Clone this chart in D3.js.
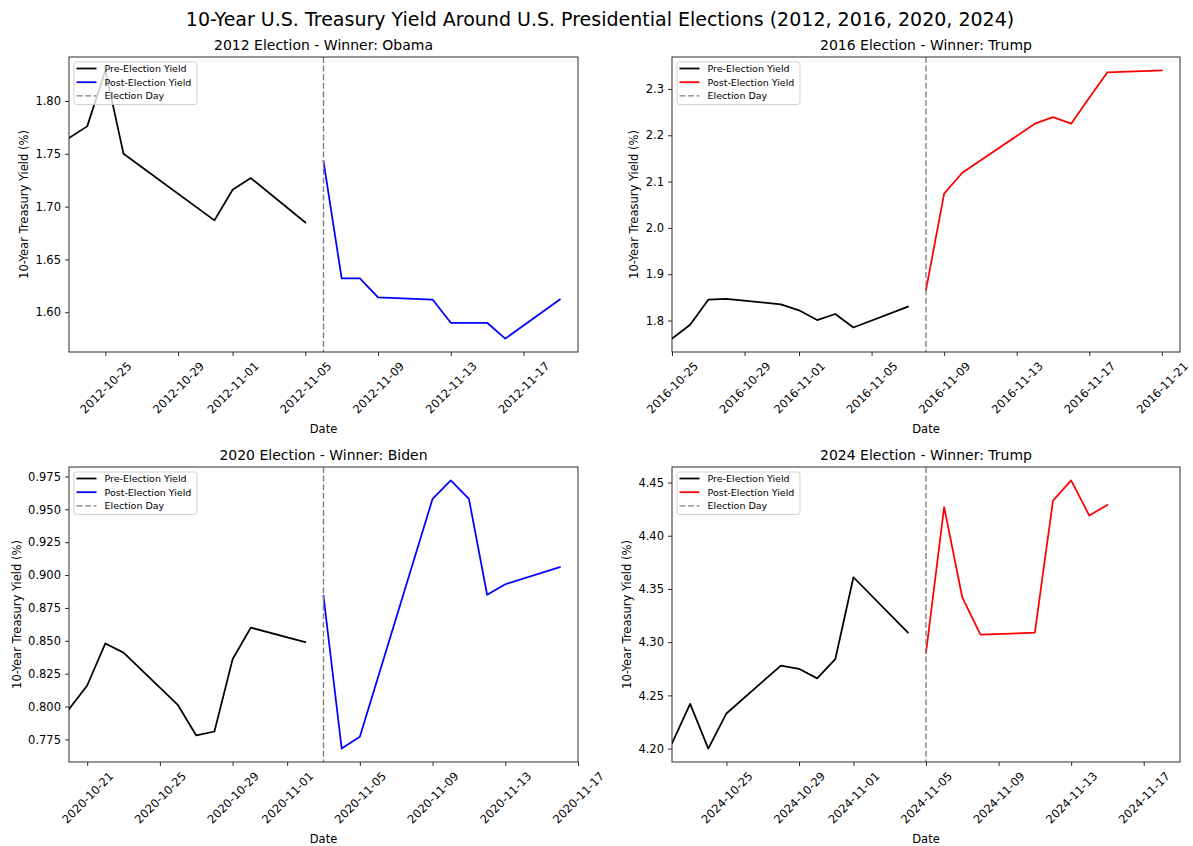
<!DOCTYPE html>
<html><head><meta charset="utf-8">
<script src="https://cdn.jsdelivr.net/npm/d3@7"></script>
<style>
body{margin:0;background:#fff}
svg{display:block}
text{font-family:"DejaVu Sans",sans-serif;fill:#000}
</style>
</head><body>
<svg id="chart" width="1193" height="846"></svg>
<script>
// ---------------- DATA ----------------
const suptitle = "10-Year U.S. Treasury Yield Around U.S. Presidential Elections (2012, 2016, 2020, 2024)";
const electionYears = ["2012", "2016", "2020", "2024"];
const winners = ["Obama", "Trump", "Biden", "Trump"];
const electionDays = ["2012-11-06", "2016-11-08", "2020-11-03", "2024-11-05"];
const postColors = ["blue", "red", "blue", "red"];
const legendLabels = ["Pre-Election Yield", "Post-Election Yield", "Election Day"];

const preDates2012 = ["2012-10-23","2012-10-24","2012-10-25","2012-10-26","2012-10-31","2012-11-01","2012-11-02","2012-11-05"];
const preYield2012 = [1.765, 1.776, 1.829, 1.750, 1.687, 1.716, 1.727, 1.685];
const postDates2012 = ["2012-11-06","2012-11-07","2012-11-08","2012-11-09","2012-11-12","2012-11-13","2012-11-14","2012-11-15","2012-11-16","2012-11-19"];
const postYield2012 = [1.743, 1.632, 1.632, 1.614, 1.612, 1.590, 1.590, 1.590, 1.575, 1.612];

const preDates2016 = ["2016-10-25","2016-10-26","2016-10-27","2016-10-28","2016-10-31","2016-11-01","2016-11-02","2016-11-03","2016-11-04","2016-11-07"];
const preYield2016 = [1.761, 1.791, 1.845, 1.847, 1.835, 1.822, 1.801, 1.814, 1.785, 1.830];
const postDates2016 = ["2016-11-08","2016-11-09","2016-11-10","2016-11-14","2016-11-15","2016-11-16","2016-11-17","2016-11-18","2016-11-21"];
const postYield2016 = [1.866, 2.074, 2.119, 2.225, 2.239, 2.225, 2.281, 2.336, 2.340];

const preDates2020 = ["2020-10-20","2020-10-21","2020-10-22","2020-10-23","2020-10-26","2020-10-27","2020-10-28","2020-10-29","2020-10-30","2020-11-02"];
const preYield2020 = [0.798, 0.816, 0.848, 0.841, 0.801, 0.778, 0.781, 0.836, 0.860, 0.849];
const postDates2020 = ["2020-11-03","2020-11-04","2020-11-05","2020-11-09","2020-11-10","2020-11-11","2020-11-12","2020-11-13","2020-11-16"];
const postYield2020 = [0.884, 0.768, 0.777, 0.958, 0.972, 0.958, 0.885, 0.893, 0.906];

const preDates2024 = ["2024-10-22","2024-10-23","2024-10-24","2024-10-25","2024-10-28","2024-10-29","2024-10-30","2024-10-31","2024-11-01","2024-11-04"];
const preYield2024 = [4.205, 4.242, 4.200, 4.233, 4.278, 4.275, 4.266, 4.284, 4.361, 4.309];
const postDates2024 = ["2024-11-05","2024-11-06","2024-11-07","2024-11-08","2024-11-11","2024-11-12","2024-11-13","2024-11-14","2024-11-15"];
const postYield2024 = [4.290, 4.427, 4.342, 4.307, 4.309, 4.433, 4.452, 4.419, 4.429];

const xTicks2012 = ["2012-10-25","2012-10-29","2012-11-01","2012-11-05","2012-11-09","2012-11-13","2012-11-17"];
const xTicks2016 = ["2016-10-25","2016-10-29","2016-11-01","2016-11-05","2016-11-09","2016-11-13","2016-11-17","2016-11-21"];
const xTicks2020 = ["2020-10-21","2020-10-25","2020-10-29","2020-11-01","2020-11-05","2020-11-09","2020-11-13","2020-11-17"];
const xTicks2024 = ["2024-10-25","2024-10-29","2024-11-01","2024-11-05","2024-11-09","2024-11-13","2024-11-17"];

const yTicks2012 = ["1.60","1.65","1.70","1.75","1.80"];
const yTicks2016 = ["1.8","1.9","2.0","2.1","2.2","2.3"];
const yTicks2020 = ["0.775","0.800","0.825","0.850","0.875","0.900","0.925","0.950","0.975"];
const yTicks2024 = ["4.20","4.25","4.30","4.35","4.40","4.45"];

// ---------------- LAYOUT ----------------
const panels = [
  {preD: preDates2012, preY: preYield2012, postD: postDates2012, postY: postYield2012, xt: xTicks2012, yt: yTicks2012},
  {preD: preDates2016, preY: preYield2016, postD: postDates2016, postY: postYield2016, xt: xTicks2016, yt: yTicks2016},
  {preD: preDates2020, preY: preYield2020, postD: postDates2020, postY: postYield2020, xt: xTicks2020, yt: yTicks2020},
  {preD: preDates2024, preY: preYield2024, postD: postDates2024, postY: postYield2024, xt: xTicks2024, yt: yTicks2024}
];
const boxes = [
  {l: 69, r: 578, t: 57, b: 352},
  {l: 672, r: 1180, t: 57, b: 352},
  {l: 69, r: 578, t: 467, b: 762},
  {l: 672, r: 1180, t: 467, b: 762}
];

const FS_TICK = 11.5, FS_LABEL = 11.5, FS_TITLE = 14, FS_SUP = 19, FS_LEG = 9.5;
const LW = 1.75;
const parse = d3.utcParse("%Y-%m-%d");
const svg = d3.select("#chart");

svg.append("text").attr("x", 600).attr("y", 26).attr("text-anchor", "middle")
  .style("font-size", FS_SUP + "px").text(suptitle);

panels.forEach((p, i) => {
  const bx = boxes[i];
  const eDay = parse(electionDays[i]);
  const x = d3.scaleUtc()
    .domain([d3.utcDay.offset(eDay, -14), d3.utcDay.offset(eDay, 14)])
    .range([bx.l, bx.r]);
  const allY = p.preY.concat(p.postY);
  const lo = d3.min(allY), hi = d3.max(allY), pad = (hi - lo) * 0.05;
  const y = d3.scaleLinear().domain([lo - pad, hi + pad]).range([bx.b, bx.t]);

  const g = svg.append("g");
  const clipId = "clip" + i;
  g.append("clipPath").attr("id", clipId).append("rect")
    .attr("x", bx.l).attr("y", bx.t).attr("width", bx.r - bx.l).attr("height", bx.b - bx.t);

  const line = d3.line().x(d => x(d[0])).y(d => y(d[1]));
  const pre = p.preD.map((d, k) => [parse(d), p.preY[k]]);
  const post = p.postD.map((d, k) => [parse(d), p.postY[k]]);
  const plot = g.append("g").attr("clip-path", `url(#${clipId})`);
  plot.append("path").attr("d", line(pre)).attr("fill", "none").attr("stroke", "black")
    .attr("stroke-width", LW).attr("stroke-linejoin", "round").attr("stroke-linecap", "square");
  plot.append("path").attr("d", line(post)).attr("fill", "none").attr("stroke", postColors[i])
    .attr("stroke-width", LW).attr("stroke-linejoin", "round").attr("stroke-linecap", "square");
  plot.append("line").attr("x1", x(eDay)).attr("x2", x(eDay)).attr("y1", bx.t).attr("y2", bx.b)
    .attr("stroke", "gray").attr("stroke-width", 1.4).attr("stroke-dasharray", "6,2.6");

  // x axis
  const xa = g.append("g").attr("transform", `translate(0,${bx.b})`)
    .call(d3.axisBottom(x).tickValues(p.xt.map(parse)).tickSize(4).tickPadding(4)
      .tickFormat(d3.utcFormat("%Y-%m-%d")));
  xa.select(".domain").remove();
  xa.selectAll(".tick line").attr("stroke", "#222").attr("stroke-width", 0.95);
  xa.selectAll(".tick text").style("font-size", FS_TICK + "px").attr("fill", "#000")
    .each(function () {
      const w = this.getComputedTextLength();
      const h = FS_TICK * 1.0;
      const off = 8 + (w + h) / (2 * Math.SQRT2);
      d3.select(this).attr("y", 0).attr("dy", "0.35em").attr("text-anchor", "middle")
        .attr("transform", `translate(0,${off}) rotate(-45)`);
    });

  // y axis
  const ya = g.append("g").attr("transform", `translate(${bx.l},0)`)
    .call(d3.axisLeft(y).tickValues(p.yt.map(Number)).tickSize(4).tickPadding(4)
      .tickFormat((d, k) => p.yt[k]));
  ya.select(".domain").remove();
  ya.selectAll(".tick line").attr("stroke", "#222").attr("stroke-width", 0.95);
  ya.selectAll(".tick text").style("font-size", FS_TICK + "px").attr("fill", "#000");
  const yb = ya.node().getBBox();
  const labelX = bx.l + yb.x - 7.3;

  // frame
  g.append("rect").attr("x", bx.l).attr("y", bx.t).attr("width", bx.r - bx.l).attr("height", bx.b - bx.t)
    .attr("fill", "none").attr("stroke", "#222").attr("stroke-width", 0.95);

  // labels
  g.append("text").attr("transform", `translate(${labelX},${(bx.t + bx.b) / 2}) rotate(-90)`)
    .attr("text-anchor", "middle").style("font-size", FS_LABEL + "px").text("10-Year Treasury Yield (%)");
  g.append("text").attr("x", (bx.l + bx.r) / 2).attr("y", bx.b + 81).attr("text-anchor", "middle")
    .style("font-size", FS_LABEL + "px").text("Date");
  g.append("text").attr("x", (bx.l + bx.r) / 2).attr("y", bx.t - 7).attr("text-anchor", "middle")
    .style("font-size", FS_TITLE + "px").text(`${electionYears[i]} Election - Winner: ${winners[i]}`);

  // legend
  const lg = g.append("g").attr("transform", `translate(${bx.l + 5},${bx.t + 5})`);
  lg.append("rect").attr("width", 123).attr("height", 42.5).attr("rx", 2.5)
    .attr("fill", "white").attr("fill-opacity", 0.8).attr("stroke", "#cccccc").attr("stroke-width", 0.9);
  const legStyles = [
    {c: "black", dash: null, w: LW},
    {c: postColors[i], dash: null, w: LW},
    {c: "gray", dash: "6,2.6", w: 1.4}
  ];
  legendLabels.forEach((lab, k) => {
    const yy = 6.5 + k * 13.7;
    const ln = lg.append("line").attr("x1", 2.5).attr("x2", 22.5).attr("y1", yy).attr("y2", yy)
      .attr("stroke", legStyles[k].c).attr("stroke-width", legStyles[k].w);
    if (legStyles[k].dash) ln.attr("stroke-dasharray", legStyles[k].dash);
    lg.append("text").attr("x", 30.5).attr("y", yy).attr("dy", "0.35em")
      .style("font-size", FS_LEG + "px").text(lab);
  });
});
</script>
</body></html>
